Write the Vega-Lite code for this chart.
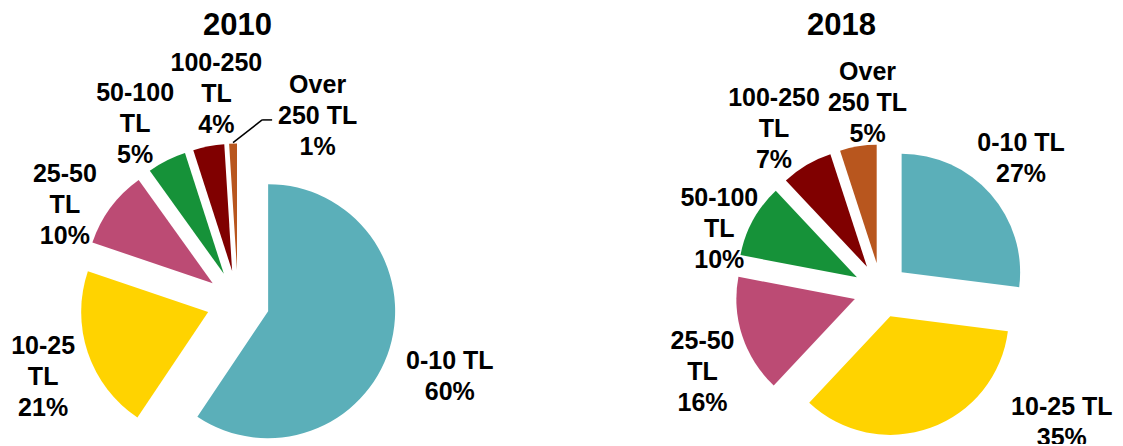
{
  "$schema": "https://vega.github.io/schema/vega-lite/v6.json",
  "padding": {"left": 0, "right": 0, "top": 10, "bottom": 0},
  "spacing": 85,
  "bounds": "flush",
  "config": {
    "view": {"stroke": null},
    "font": "Liberation Sans",
    "title": {"font": "Liberation Sans", "fontSize": 31, "fontWeight": "bold", "color": "#000000", "offset": 2}
  },
  "hconcat": [
    {
      "width": 475,
      "height": 400,
      "title": {"text": "2010"},
      "data": {"values": [
        {"k": 1, "cat": "0-10 TL", "label": "0-10 TL", "share": 60},
        {"k": 2, "cat": "10-25 TL", "label": "10-25\nTL", "share": 21},
        {"k": 3, "cat": "25-50 TL", "label": "25-50\nTL", "share": 10},
        {"k": 4, "cat": "50-100 TL", "label": "50-100\nTL", "share": 5},
        {"k": 5, "cat": "100-250 TL", "label": "100-250\nTL", "share": 4},
        {"k": 6, "cat": "Over 250 TL", "label": "Over\n250 TL", "share": 1}
      ]},
      "transform": [
        {"joinaggregate": [{"op": "sum", "field": "share", "as": "total"}]},
        {"window": [{"op": "sum", "field": "share", "as": "cum"}], "sort": [{"field": "k", "order": "ascending"}], "frame": [null, 0]},
        {"calculate": "2*PI*(datum.cum - datum.share/2)/datum.total", "as": "mid"},
        {"calculate": "31.5*sin(datum.mid)", "as": "ex"},
        {"calculate": "31.5*cos(datum.mid)", "as": "ey"},
        {"calculate": "datum.mid + [0, 1.3, -1, -6, -2.6, 4.9, 24.4][datum.k]*PI/180", "as": "la"},
        {"calculate": "[0, 223, 207, 201, 210, 214, 207][datum.k]", "as": "lr"},
        {"calculate": "datum.label + '\\n' + datum.share + '%'", "as": "txt"},
        {"calculate": "length(split(datum.txt, '\\n'))", "as": "nl"},
        {"calculate": "datum.lr*sin(datum.la)", "as": "lx"},
        {"calculate": "datum.lr*cos(datum.la)", "as": "lyc"},
        {"calculate": "datum.lyc + (datum.nl - 1)*15.5 - 5", "as": "ly"}
      ],
      "layer": [
        {
          "mark": {"type": "arc", "outerRadius": 127},
          "encoding": {
            "x": {"field": "ex", "type": "quantitative", "scale": {"domain": [-238, 237], "nice": false, "zero": false}, "axis": null},
            "y": {"field": "ey", "type": "quantitative", "scale": {"domain": [-142, 258], "nice": false, "zero": false}, "axis": null},
            "theta": {"field": "share", "type": "quantitative", "stack": true},
            "order": {"field": "k", "type": "quantitative"},
            "color": {"field": "cat", "type": "nominal", "legend": null,
              "scale": {"domain": ["0-10 TL", "10-25 TL", "25-50 TL", "50-100 TL", "100-250 TL", "Over 250 TL"],
                        "range": ["#5BAFB9", "#FFD300", "#BC4B74", "#169239", "#800000", "#B8561E"]}}
          }
        },
        {
          "transform": [
            {"filter": "datum.k == 6"},
            {"calculate": "159.5*sin(datum.mid)", "as": "x0"},
            {"calculate": "159.5*cos(datum.mid)", "as": "y0"},
            {"calculate": "datum.lx - 55.5", "as": "xe"},
            {"calculate": "datum.lyc - 9", "as": "ye"},
            {"calculate": "datum.lx - 45.5", "as": "xf"}
          ],
          "layer": [
            {
              "mark": {"type": "rule", "color": "#000000", "strokeWidth": 1.5},
              "encoding": {
                "x": {"field": "x0", "type": "quantitative"},
                "y": {"field": "y0", "type": "quantitative"},
                "x2": {"field": "xe"},
                "y2": {"field": "ye"}
              }
            },
            {
              "mark": {"type": "rule", "color": "#000000", "strokeWidth": 1.5},
              "encoding": {
                "x": {"field": "xe", "type": "quantitative"},
                "y": {"field": "ye", "type": "quantitative"},
                "x2": {"field": "xf"},
                "y2": {"field": "ye"}
              }
            }
          ]
        },
        {
          "mark": {"type": "text", "font": "Liberation Sans", "fontWeight": "bold", "fontSize": 25, "lineHeight": 31, "lineBreak": "\n", "align": "center", "baseline": "middle", "color": "#000000"},
          "encoding": {
            "x": {"field": "lx", "type": "quantitative"},
            "y": {"field": "ly", "type": "quantitative"},
            "text": {"field": "txt"}
          }
        }
      ]
    },
    {
      "width": 563,
      "height": 400,
      "title": {"text": "2018"},
      "data": {"values": [
        {"k": 1, "cat": "0-10 TL", "label": "0-10 TL", "share": 27},
        {"k": 2, "cat": "10-25 TL", "label": "10-25 TL", "share": 35},
        {"k": 3, "cat": "25-50 TL", "label": "25-50\nTL", "share": 16},
        {"k": 4, "cat": "50-100 TL", "label": "50-100\nTL", "share": 10},
        {"k": 5, "cat": "100-250 TL", "label": "100-250\nTL", "share": 7},
        {"k": 6, "cat": "Over 250 TL", "label": "Over\n250 TL", "share": 5}
      ]},
      "transform": [
        {"joinaggregate": [{"op": "sum", "field": "share", "as": "total"}]},
        {"window": [{"op": "sum", "field": "share", "as": "cum"}], "sort": [{"field": "k", "order": "ascending"}], "frame": [null, 0]},
        {"calculate": "2*PI*(datum.cum - datum.share/2)/datum.total", "as": "mid"},
        {"calculate": "27.5*sin(datum.mid)", "as": "ex"},
        {"calculate": "27.5*cos(datum.mid)", "as": "ey"},
        {"calculate": "datum.mid + [0, -3, -35.1, -5.1, -6.3, -2.1, 5][datum.k]*PI/180", "as": "la"},
        {"calculate": "[0, 196, 221, 194, 175, 198, 193][datum.k]", "as": "lr"},
        {"calculate": "datum.label + '\\n' + datum.share + '%'", "as": "txt"},
        {"calculate": "length(split(datum.txt, '\\n'))", "as": "nl"},
        {"calculate": "datum.lr*sin(datum.la)", "as": "lx"},
        {"calculate": "datum.lr*cos(datum.la) + (datum.nl - 1)*15.5 - 5", "as": "ly"}
      ],
      "layer": [
        {
          "mark": {"type": "arc", "outerRadius": 118.5},
          "encoding": {
            "x": {"field": "ex", "type": "quantitative", "scale": {"domain": [-321, 242], "nice": false, "zero": false}, "axis": null},
            "y": {"field": "ey", "type": "quantitative", "scale": {"domain": [-153.5, 246.5], "nice": false, "zero": false}, "axis": null},
            "theta": {"field": "share", "type": "quantitative", "stack": true},
            "order": {"field": "k", "type": "quantitative"},
            "color": {"field": "cat", "type": "nominal", "legend": null,
              "scale": {"domain": ["0-10 TL", "10-25 TL", "25-50 TL", "50-100 TL", "100-250 TL", "Over 250 TL"],
                        "range": ["#5BAFB9", "#FFD300", "#BC4B74", "#169239", "#800000", "#B8561E"]}}
          }
        },
        {
          "mark": {"type": "text", "font": "Liberation Sans", "fontWeight": "bold", "fontSize": 25, "lineHeight": 31, "lineBreak": "\n", "align": "center", "baseline": "middle", "color": "#000000", "clip": true},
          "encoding": {
            "x": {"field": "lx", "type": "quantitative"},
            "y": {"field": "ly", "type": "quantitative"},
            "text": {"field": "txt"}
          }
        }
      ]
    }
  ]
}
